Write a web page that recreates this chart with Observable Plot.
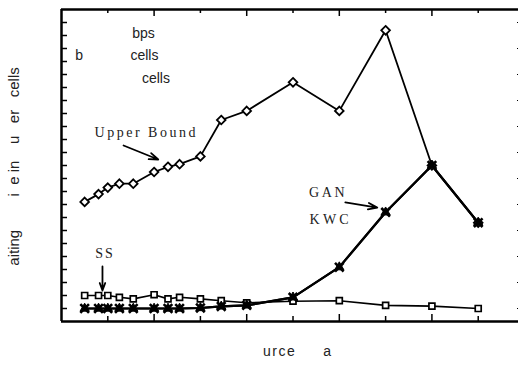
<!DOCTYPE html>
<html><head><meta charset="utf-8">
<script src="https://cdn.jsdelivr.net/npm/d3@7"></script>
<script src="https://cdn.jsdelivr.net/npm/@observablehq/plot@0.6"></script>
<style>
html,body{margin:0;padding:0;background:#fff;overflow:hidden}
svg text{white-space:pre}
</style></head><body><div id="chart"></div>
<script>
// x positions shared by every series
const xValues = [0.5, 0.8, 1, 1.25, 1.55, 2, 2.3, 2.55, 3, 3.45, 4, 5, 6, 7, 8, 9];
const upperBound = [4.1, 4.4, 4.65, 4.8, 4.8, 5.25, 5.45, 5.55, 5.85, 7.25, 7.6, 8.7, 7.6, 10.7, 5.5, 3.3];
const ssValues = [0.5, 0.5, 0.5, 0.43, 0.37, 0.53, 0.37, 0.43, 0.37, 0.3, 0.22, 0.28, 0.3, 0.12, 0.09, 0];
const ganValues = [0, 0, 0, 0, 0, 0, 0, 0, 0.02, 0.08, 0.12, 0.43, 1.59, 3.7, 5.5, 3.3];
const kwcValues = [0, 0, 0, 0, 0, 0, 0, 0, 0.02, 0.08, 0.12, 0.43, 1.59, 3.7, 5.5, 3.3];

// tick values
const xMajorTicks = [2, 4, 6, 8];
const xMinorTicks = [1, 3, 5, 7, 9];
const yLeftTicks = [0, 0.5, 1, 1.5, 2, 2.5, 3, 3.5, 4, 4.5, 5, 5.5, 6, 6.5, 7, 7.5, 8, 8.5, 9, 9.5, 10, 10.5, 11];
const yRightTicks = [0, 1, 2, 3, 4, 5, 6, 7, 8, 9, 10, 11];

// annotation labels (data coordinates)
const serifLabels = ["Upper Bound", "SS", "G A N", "K W C"];
const serifX = [1.83, 0.94, 5.73, 5.78];
const serifY = [6.77, 2.12, 4.47, 3.42];
const sansLabels = ["bps", "b", "cells", "cells"];
const sansX = [1.77, 0.38, 1.79, 2.04];
const sansY = [10.58, 9.73, 9.73, 8.85];
const arrowX1 = [1.34, 0.885, 6.13];
const arrowY1 = [6.27, 1.62, 4.08];
const arrowX2 = [2.09, 0.885, 6.82];
const arrowY2 = [5.73, 0.69, 3.88];

const yLabel = "aiting        i  e in    u   er   cells";
const xLabel = "urce     a";

const rows = xValues.map((x, i) => ({x, ub: upperBound[i], ss: ssValues[i], gan: ganValues[i], kwc: kwcValues[i]}));
const serif = serifLabels.map((t, i) => ({t, x: serifX[i], y: serifY[i]}));
const sans = sansLabels.map((t, i) => ({t, x: sansX[i], y: sansY[i]}));
const arrows = arrowX1.map((x1, i) => ({x1, y1: arrowY1[i], x2: arrowX2[i], y2: arrowY2[i]}));
const blank = () => "";

const chart = Plot.plot({
  width: 518, height: 366,
  marginLeft: 61, marginRight: 0, marginTop: 9, marginBottom: 45,
  style: {fontFamily: "'Liberation Sans', Arial, sans-serif", background: "#fff"},
  x: {domain: [0, 9.87], axis: null},
  y: {domain: [-0.5, 11.5], axis: null},
  marks: [
    // axes ticks (inward)
    Plot.axisX({anchor: "bottom", ticks: xMajorTicks, tickSize: -7, tickFormat: blank, label: null, strokeWidth: 1.5}),
    Plot.axisX({anchor: "bottom", ticks: xMinorTicks, tickSize: -5, tickFormat: blank, label: null, strokeWidth: 1.5}),
    Plot.axisX({anchor: "top", ticks: xMajorTicks, tickSize: -6, tickFormat: blank, label: null, strokeWidth: 1.5}),
    Plot.axisX({anchor: "top", ticks: xMinorTicks, tickSize: -3, tickFormat: blank, label: null, strokeWidth: 1.5}),
    Plot.axisY({anchor: "left", ticks: yLeftTicks, tickSize: -6, tickFormat: blank, label: null, strokeWidth: 1.5}),
    Plot.axisY({anchor: "right", ticks: yRightTicks, tickSize: -2, tickFormat: blank, label: null, strokeWidth: 1}),
    // frame lines
    Plot.ruleX([0], {strokeWidth: 2.5}),
    Plot.ruleY([-0.5, 11.5], {strokeWidth: 2.5}),
    // series
    Plot.line(rows, {x: "x", y: "ub", stroke: "#000", strokeWidth: 1.8}),
    Plot.line(rows, {x: "x", y: "ss", stroke: "#000", strokeWidth: 1.6}),
    Plot.line(rows, {x: "x", y: "gan", stroke: "#000", strokeWidth: 2.2}),
    Plot.line(rows, {x: "x", y: "kwc", stroke: "#000", strokeWidth: 2.2}),
    Plot.dot(rows, {x: "x", y: "ub", symbol: "diamond2", r: 3.9, fill: "#fff", stroke: "#000", strokeWidth: 1.8}),
    Plot.dot(rows, {x: "x", y: "ss", symbol: "square2", r: 3.8, fill: "#fff", stroke: "#000", strokeWidth: 1.7}),
    Plot.dot(rows, {x: "x", y: "gan", symbol: "triangle2", r: 4.4, fill: "#000", stroke: "#000", strokeWidth: 1}),
    Plot.dot(rows, {x: "x", y: "kwc", symbol: "times", r: 4, stroke: "#000", strokeWidth: 2.6}),
    // annotations
    Plot.text(serif, {x: "x", y: "y", text: "t", fontFamily: "'Liberation Serif', 'Times New Roman', serif", fontSize: 14, fill: "#222"}),
    Plot.text(sans, {x: "x", y: "y", text: "t", fontSize: 14, fill: "#222"}),
    Plot.arrow(arrows, {x1: "x1", y1: "y1", x2: "x2", y2: "y2", stroke: "#000", strokeWidth: 1.8, headLength: 8, headAngle: 40}),
    // axis titles
    Plot.text([yLabel], {frameAnchor: "left", textAnchor: "middle", text: d => d, rotate: -90, dx: -47, dy: 1, fontSize: 15, fill: "#222"}),
    Plot.text([xLabel], {frameAnchor: "bottom", textAnchor: "start", text: d => d, dy: 34, dx: -27, fontSize: 14, fill: "#222"})
  ]
});
document.getElementById("chart").appendChild(chart);
// letter spacing for serif annotations and x title
d3.select(chart).selectAll("text").each(function() {
  const t = this.textContent;
  if (t === "Upper Bound") this.setAttribute("letter-spacing", "2.5");
  if (t === "SS") this.setAttribute("letter-spacing", "2");
  if (t === xLabel) this.setAttribute("letter-spacing", "1.5");
});
</script></body></html>
